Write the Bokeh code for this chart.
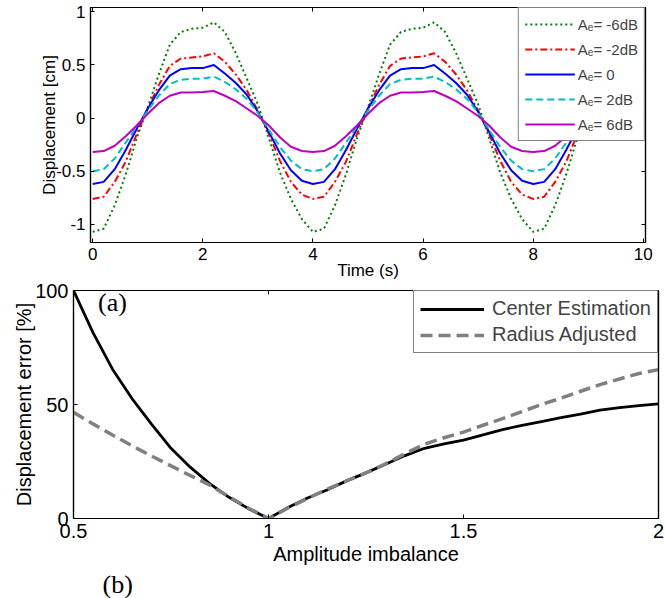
from bokeh.plotting import figure
from bokeh.models import Range1d, LinearAxis, FixedTicker, Legend, LegendItem, Label, NumeralTickFormatter, Title
from bokeh.embed import file_html
from bokeh.resources import INLINE

# ---------------- data: panel (a) ----------------
time_s = [0.0, 0.2, 0.4, 0.6, 0.8, 1.0, 1.2, 1.4, 1.6, 1.8, 2.0, 2.2, 2.4, 2.6, 2.8, 3.0,
          3.2, 3.4, 3.6, 3.8, 4.0, 4.2, 4.4, 4.6, 4.8, 5.0, 5.2, 5.4, 5.6, 5.8, 6.0, 6.2,
          6.4, 6.6, 6.8, 7.0, 7.2, 7.4, 7.6, 7.8, 8.0, 8.2, 8.4, 8.6, 8.8, 9.0]

ae_m6db = [-1.07, -1.04, -0.82, -0.53, -0.19, 0.10, 0.41, 0.69, 0.81, 0.84, 0.85, 0.90, 0.81, 0.61, 0.37, 0.13,
           -0.19, -0.51, -0.76, -0.95, -1.07,
           -1.04, -0.82, -0.53, -0.19, 0.10, 0.41, 0.69, 0.81, 0.84, 0.85, 0.90, 0.81, 0.61, 0.37, 0.13,
           -0.19, -0.51, -0.76, -0.95, -1.07,
           -1.04, -0.82, -0.53, -0.19, 0.10]
ae_m2db = [-0.76, -0.74, -0.60, -0.41, -0.15, 0.09, 0.31, 0.49, 0.56, 0.57, 0.58, 0.61, 0.53, 0.41, 0.26, 0.07,
           -0.15, -0.40, -0.60, -0.72, -0.76,
           -0.74, -0.60, -0.41, -0.15, 0.09, 0.31, 0.49, 0.56, 0.57, 0.58, 0.61, 0.53, 0.41, 0.26, 0.07,
           -0.15, -0.40, -0.60, -0.72, -0.76,
           -0.74, -0.60, -0.41, -0.15, 0.09]
ae_0db = [-0.62, -0.60, -0.48, -0.30, -0.10, 0.09, 0.26, 0.40, 0.46, 0.47, 0.47, 0.50, 0.42, 0.33, 0.22, 0.06,
          -0.13, -0.33, -0.49, -0.59, -0.62,
          -0.60, -0.48, -0.30, -0.10, 0.09, 0.26, 0.40, 0.46, 0.47, 0.47, 0.50, 0.42, 0.33, 0.22, 0.06,
          -0.13, -0.33, -0.49, -0.59, -0.62,
          -0.60, -0.48, -0.30, -0.10, 0.09]
ae_p2db = [-0.50, -0.48, -0.38, -0.23, -0.08, 0.07, 0.21, 0.32, 0.36, 0.37, 0.37, 0.39, 0.34, 0.27, 0.18, 0.05,
           -0.11, -0.27, -0.40, -0.48, -0.50,
           -0.48, -0.38, -0.23, -0.08, 0.07, 0.21, 0.32, 0.36, 0.37, 0.37, 0.39, 0.34, 0.27, 0.18, 0.05,
           -0.11, -0.27, -0.40, -0.48, -0.50,
           -0.48, -0.38, -0.23, -0.08, 0.07]
ae_p6db = [-0.32, -0.31, -0.26, -0.17, -0.07, 0.04, 0.14, 0.21, 0.24, 0.24, 0.245, 0.255, 0.21, 0.16, 0.09, 0.02,
           -0.07, -0.18, -0.27, -0.31, -0.32,
           -0.31, -0.26, -0.17, -0.07, 0.04, 0.14, 0.21, 0.24, 0.24, 0.245, 0.255, 0.21, 0.16, 0.09, 0.02,
           -0.07, -0.18, -0.27, -0.31, -0.32,
           -0.31, -0.26, -0.17, -0.07, 0.04]

legend_a = ["A\u2091= -6dB", "A\u2091= -2dB", "A\u2091= 0", "A\u2091= 2dB", "A\u2091= 6dB"]
top_xticks = [0, 2, 4, 6, 8, 10]
top_yticks = [-1, -0.5, 0, 0.5, 1]

# ---------------- data: panel (b) ----------------
amp_imb = [0.50, 0.55, 0.60, 0.65, 0.70, 0.75, 0.80, 0.85, 0.90, 0.95, 1.00, 1.05, 1.10, 1.15, 1.20, 1.25,
           1.30, 1.35, 1.40, 1.45, 1.50, 1.55, 1.60, 1.65, 1.70, 1.75, 1.80, 1.85, 1.90, 1.95, 2.00]
center_est = [100, 81.5, 65.5, 52.6, 41.4, 30.8, 22.4, 15.2, 9.2, 4.2, 0, 4.8, 9.0, 12.5, 16.5, 20.0,
              23.8, 27.6, 30.8, 32.7, 34.4, 36.7, 39.0, 40.8, 42.5, 44.2, 45.8, 47.5, 48.6, 49.5, 50.3]
radius_adj = [46.6, 41.5, 36.6, 31.9, 27.4, 23.1, 18.8, 14.6, 9.4, 4.4, 0, 4.6, 8.8, 12.8, 16.5, 20.0,
              24.0, 28.4, 32.6, 35.4, 37.9, 40.9, 43.8, 46.9, 50.0, 52.8, 55.8, 58.7, 61.2, 63.6, 65.3]
legend_b = ["Center Estimation", "Radius Adjusted"]
bot_xticks = [0.5, 1, 1.5, 2]
bot_yticks = [0, 50, 100]

FONT = "Liberation Sans"


def style_axis(ax, ticks, size, show_labels=True):
    ax.ticker = FixedTicker(ticks=ticks)
    ax.formatter = NumeralTickFormatter(format="0.[0]")
    ax.major_tick_in = 4
    ax.major_tick_out = 0
    ax.minor_tick_line_color = None
    ax.axis_line_color = "black"
    ax.axis_line_width = 1.2
    ax.major_tick_line_color = "black"
    ax.major_label_text_font = FONT
    ax.major_label_text_font_size = size
    ax.axis_label_text_font = FONT
    ax.axis_label_text_font_size = size
    ax.axis_label_text_font_style = "normal"
    ax.axis_label_text_color = "black"
    if show_labels:
        ax.major_label_text_color = "black"
        ax.major_label_standoff = 5
    else:
        ax.major_label_text_color = None
        ax.major_label_text_font_size = "1px"
        ax.major_label_standoff = 0


# ---------------- panel (a) ----------------
p1 = figure(width=665, height=282, output_backend="svg", toolbar_location=None,
            x_range=Range1d(-0.04, 10.04), y_range=Range1d(-1.17, 1.04),
            min_border_left=90, min_border_right=20, min_border_top=7, min_border_bottom=34)
p1.grid.visible = False
p1.outline_line_color = "black"
p1.outline_line_width = 1.2
p1.background_fill_color = "white"
p1.border_fill_color = "white"

r1 = p1.line(time_s, ae_m6db, line_color="#008000", line_width=2, line_dash="2 3")
r2 = p1.line(time_s, ae_m2db, line_color="#ff0000", line_width=2, line_dash="7 3 2 3")
r3 = p1.line(time_s, ae_0db, line_color="#0000ff", line_width=2)
r4 = p1.line(time_s, ae_p2db, line_color="#00bfbf", line_width=2, line_dash="7 4")
r5 = p1.line(time_s, ae_p6db, line_color="#bf00bf", line_width=2)

style_axis(p1.xaxis[0], top_xticks, "17px")
style_axis(p1.yaxis[0], top_yticks, "17px")
p1.xaxis[0].axis_label = "Time (s)"
p1.xaxis[0].axis_label_standoff = -2
p1.yaxis[0].axis_label = "Displacement [cm]"
p1.yaxis[0].axis_label_standoff = -6

ax_top = LinearAxis()
style_axis(ax_top, top_xticks, "17px", show_labels=False)
p1.add_layout(ax_top, "above")
ax_right = LinearAxis()
style_axis(ax_right, top_yticks, "17px", show_labels=False)
p1.add_layout(ax_right, "right")

leg1 = Legend(items=[LegendItem(label=l, renderers=[r]) for l, r in zip(legend_a, [r1, r2, r3, r4, r5])],
              location="top_right", margin=0, padding=6, spacing=5,
              glyph_width=50, glyph_height=20, label_height=20, label_standoff=3,
              label_text_font=FONT, label_text_font_size="15px",
              border_line_color="black", border_line_width=1.2,
              background_fill_color="white", background_fill_alpha=1.0)
p1.add_layout(leg1)

# ---------------- panel (b) ----------------
# overlaps panel (a) by 12 px with a transparent border so the top tick label is not cut
p2 = figure(width=665, height=328, output_backend="svg", toolbar_location=None,
            x_range=Range1d(0.5, 2.0), y_range=Range1d(0, 100),
            min_border_left=73, min_border_right=7, min_border_top=20, min_border_bottom=80)
p2.styles = {"margin-top": "-12px"}
p2.grid.visible = False
p2.outline_line_color = "black"
p2.outline_line_width = 1.2
p2.background_fill_color = "white"
p2.border_fill_color = None

b1 = p2.line(amp_imb, center_est, line_color="black", line_width=2.8)
b2 = p2.line(amp_imb, radius_adj, line_color="#808080", line_width=3.5, line_dash="12 6")

style_axis(p2.xaxis[0], bot_xticks, "20px")
style_axis(p2.yaxis[0], bot_yticks, "20px")
p2.xaxis[0].axis_label = "Amplitude imbalance"
p2.xaxis[0].axis_label_standoff = 2
p2.yaxis[0].axis_label = "Displacement error [%]"
p2.yaxis[0].axis_label_standoff = -3

ax_top2 = LinearAxis()
style_axis(ax_top2, bot_xticks, "20px", show_labels=False)
p2.add_layout(ax_top2, "above")
ax_right2 = LinearAxis()
style_axis(ax_right2, bot_yticks, "20px", show_labels=False)
p2.add_layout(ax_right2, "right")

leg2 = Legend(items=[LegendItem(label=l, renderers=[r]) for l, r in zip(legend_b, [b1, b2])],
              location="top_right", margin=0, padding=6, spacing=3,
              glyph_width=64, glyph_height=22, label_height=22, label_standoff=8,
              label_text_font=FONT, label_text_font_size="20px",
              border_line_color="black", border_line_width=1.2,
              background_fill_color="white", background_fill_alpha=1.0)
p2.add_layout(leg2)

p2.add_layout(Label(x=0.563, y=100.9, text="(a)", text_font="Liberation Serif", text_font_size="26px",
                    text_baseline="top", text_color="black"))
p2.add_layout(Title(text="(b)", align="left", offset=29, text_font="Liberation Serif",
                    text_font_size="26px", text_font_style="normal", text_color="black",
                    standoff=0), "below")

open("out.html", "w").write(file_html([p1, p2], INLINE))
